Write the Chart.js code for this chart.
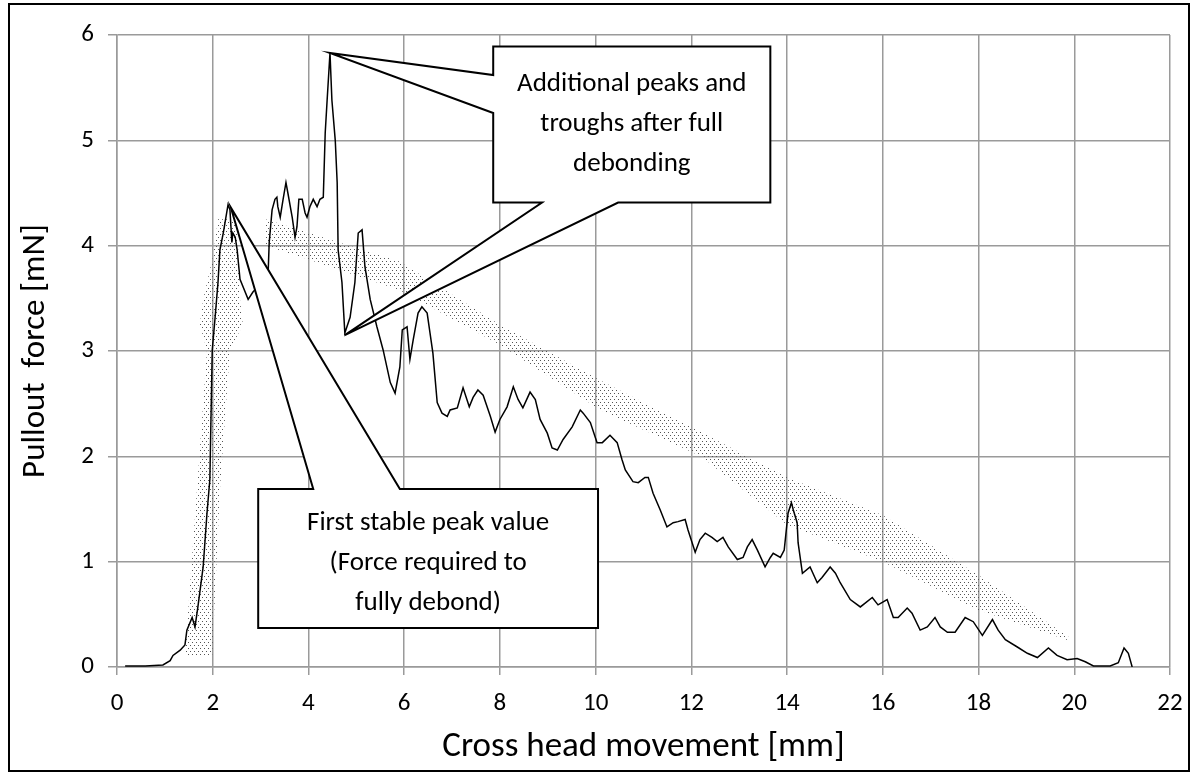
<!DOCTYPE html>
<html>
<head>
<meta charset="utf-8">
<script src="https://cdn.jsdelivr.net/npm/chart.js@4.4.1/dist/chart.umd.min.js"></script>
<style>
  body { margin: 0; background: #fff; }
</style>
</head>
<body>
<canvas id="pullout" width="1198" height="776"></canvas>
<script>
// pullout curve
const moveMm = [0.17, 0.59, 0.96, 1.11, 1.17, 1.32, 1.42, 1.46, 1.57, 1.63, 1.69, 1.80, 1.88, 1.94, 1.99, 2.05, 2.11, 2.15, 2.22, 2.32,
  2.36, 2.40, 2.42, 2.47, 2.51, 2.57, 2.74, 2.84, 2.99, 3.16, 3.18, 3.24, 3.30, 3.34, 3.36, 3.41, 3.47, 3.53, 3.57, 3.66,
  3.72, 3.76, 3.80, 3.87, 3.93, 3.97, 4.03, 4.10, 4.18, 4.24, 4.31, 4.35, 4.39, 4.45, 4.49, 4.56, 4.60, 4.62, 4.70, 4.76,
  4.87, 4.97, 5.04, 5.12, 5.18, 5.29, 5.43, 5.56, 5.71, 5.81, 5.91, 5.96, 6.06, 6.12, 6.19, 6.29, 6.37, 6.48, 6.54, 6.60,
  6.69, 6.79, 6.90, 6.96, 7.11, 7.23, 7.36, 7.44, 7.54, 7.65, 7.80, 7.90, 8.00, 8.15, 8.28, 8.38, 8.48, 8.63, 8.74, 8.84,
  8.99, 9.09, 9.20, 9.32, 9.51, 9.68, 9.74, 9.89, 10.03, 10.14, 10.30, 10.45, 10.55, 10.62, 10.78, 10.89, 11.03, 11.10, 11.20, 11.35,
  11.49, 11.62, 11.72, 11.87, 11.93, 12.08, 12.18, 12.29, 12.43, 12.54, 12.66, 12.77, 12.96, 13.08, 13.17, 13.27, 13.38, 13.54, 13.65, 13.71,
  13.86, 13.94, 14.02, 14.09, 14.13, 14.21, 14.23, 14.32, 14.48, 14.63, 14.73, 14.90, 15.01, 15.11, 15.32, 15.53, 15.78, 15.90, 16.09, 16.22,
  16.32, 16.51, 16.61, 16.78, 16.93, 17.09, 17.20, 17.35, 17.51, 17.72, 17.89, 18.08, 18.29, 18.41, 18.56, 18.81, 19.02, 19.23, 19.46, 19.64,
  19.85, 20.06, 20.23, 20.40, 20.75, 20.92, 21.04, 21.13, 21.21];
const forceMn = [0.01, 0.01, 0.02, 0.06, 0.11, 0.16, 0.21, 0.35, 0.47, 0.38, 0.57, 0.95, 1.46, 1.78, 3.01, 3.32, 3.65, 3.96, 4.12, 4.39,
  4.34, 4.03, 4.12, 4.08, 3.96, 3.68, 3.49, 3.56, 3.63, 3.77, 4.03, 4.34, 4.44, 4.46, 4.37, 4.27, 4.44, 4.60, 4.50, 4.27,
  4.08, 4.18, 4.44, 4.44, 4.31, 4.27, 4.37, 4.44, 4.37, 4.44, 4.46, 5.07, 5.38, 5.83, 5.38, 5.00, 4.60, 3.96, 3.65, 3.17,
  3.32, 3.65, 4.12, 4.15, 3.80, 3.49, 3.23, 3.01, 2.70, 2.60, 2.85, 3.20, 3.23, 2.92, 3.11, 3.36, 3.42, 3.36, 3.17, 2.98,
  2.51, 2.41, 2.38, 2.44, 2.46, 2.65, 2.47, 2.56, 2.63, 2.58, 2.38, 2.23, 2.35, 2.47, 2.66, 2.54, 2.46, 2.61, 2.54, 2.35,
  2.22, 2.08, 2.06, 2.16, 2.28, 2.44, 2.41, 2.32, 2.13, 2.13, 2.20, 2.13, 1.97, 1.87, 1.76, 1.75, 1.80, 1.80, 1.65, 1.49,
  1.33, 1.37, 1.38, 1.40, 1.30, 1.09, 1.21, 1.27, 1.23, 1.19, 1.23, 1.14, 1.02, 1.04, 1.14, 1.21, 1.11, 0.95, 1.04, 1.08,
  1.04, 1.11, 1.46, 1.56, 1.49, 1.37, 1.18, 0.89, 0.95, 0.80, 0.85, 0.95, 0.89, 0.80, 0.64, 0.57, 0.66, 0.59, 0.64, 0.47,
  0.47, 0.56, 0.51, 0.35, 0.38, 0.47, 0.38, 0.33, 0.33, 0.47, 0.43, 0.30, 0.45, 0.35, 0.26, 0.19, 0.13, 0.09, 0.18, 0.11,
  0.07, 0.08, 0.05, 0.01, 0.01, 0.04, 0.18, 0.13, 0.00];

// dotted highlight areas (outline points)
const riseBandX = [1.42, 1.99, 2.15, 2.36, 2.63, 2.57, 2.51, 2.11, 2.01, 1.80, 1.73, 1.88, 1.67, 1.42];
const riseBandY = [0.11, 0.11, 1.68, 3.01, 3.25, 3.49, 4.25, 4.25, 3.91, 3.49, 3.25, 3.01, 1.68, 0.11];
const trendBandX = [3.1, 3.8, 5.9, 8.0, 10.1, 12.2, 14.0, 16.0, 18.0, 19.9, 19.9, 18.0, 16.0, 14.0, 12.2, 10.1, 8.0, 5.9, 3.8, 3.1, 3.1];
const trendBandY = [4.25, 4.15, 3.85, 3.25, 2.72, 2.23, 1.80, 1.44, 0.87, 0.28, 0.25, 0.54, 1.00, 1.35, 2.00, 2.44, 3.06, 3.58, 3.90, 4.00, 4.25];

const xTicks = [0, 2, 4, 6, 8, 10, 12, 14, 16, 18, 20, 22];
const yTicks = [0, 1, 2, 3, 4, 5, 6];

const calloutPeaks = ['Additional peaks and', 'troughs after full', 'debonding'];
const calloutFirst = ['First stable peak value', '(Force required to', 'fully debond)'];

const FONT = "Carlito, Lato, 'Noto Sans', sans-serif";

function toPoints(xs, ys) {
  return xs.map((v, i) => ({ x: v, y: ys[i] }));
}

// little dot pattern for the shaded areas
function dotPattern() {
  const c = document.createElement('canvas');
  c.width = 4; c.height = 6;
  const g = c.getContext('2d');
  g.fillStyle = '#555';
  g.fillRect(0, 0, 1, 1);
  g.fillRect(2, 3, 1, 1);
  return g.createPattern(c, 'repeat');
}

const calloutPlugin = {
  id: 'callouts',
  afterDatasetsDraw(chart) {
    const ctx = chart.ctx;
    const sx = chart.scales.x, sy = chart.scales.y;
    const P = (a, b) => [sx.getPixelForValue(a), sy.getPixelForValue(b)];

    function shape(pts) {
      ctx.beginPath();
      pts.forEach((p, i) => i ? ctx.lineTo(p[0], p[1]) : ctx.moveTo(p[0], p[1]));
      ctx.closePath();
      ctx.fillStyle = '#fff';
      ctx.fill();
      ctx.lineWidth = 2;
      ctx.strokeStyle = '#000';
      ctx.stroke();
    }
    function label(lines, cx, cy) {
      ctx.fillStyle = '#000';
      ctx.font = '27px ' + FONT;
      ctx.textAlign = 'center';
      ctx.textBaseline = 'middle';
      lines.forEach((t, i) => ctx.fillText(t, cx, cy + (i - 1) * 40));
    }

    ctx.save();
    // upper callout: wedge to the big peak and wedge to the trough
    let x0 = 7.86, x1 = 13.65, yT = 5.89, yB = 4.41;
    shape([P(x0, yT), P(x1, yT), P(x1, yB), P(10.47, yB), P(4.76, 3.15), P(8.88, yB),
      P(x0, yB), P(x0, 5.26), P(4.45, 5.83), P(x0, 5.62)]);
    let a = P(x0, yT), b = P(x1, yB);
    label(calloutPeaks, (a[0] + b[0]) / 2, (a[1] + b[1]) / 2);

    // lower callout: wedge up to the first peak
    x0 = 2.95; x1 = 10.05; yT = 1.69; yB = 0.37;
    shape([P(x0, yT), P(4.10, yT), P(2.38, 4.36), P(5.91, yT), P(x1, yT), P(x1, yB), P(x0, yB)]);
    a = P(x0, yT); b = P(x1, yB);
    label(calloutFirst, (a[0] + b[0]) / 2, (a[1] + b[1]) / 2 + 5);
    ctx.restore();
  },
  afterDraw(chart) {
    const ctx = chart.ctx;
    ctx.save();
    ctx.lineWidth = 2;
    ctx.strokeStyle = '#000';
    ctx.strokeRect(9, 4, 1180, 767);
    ctx.restore();
  }
};

const pattern = dotPattern();
const gridGrey = '#9a9a9a';

new Chart(document.getElementById('pullout'), {
  type: 'line',
  data: {
    datasets: [
      {
        data: toPoints(moveMm, forceMn),
        borderColor: '#000',
        borderWidth: 1.5,
        pointRadius: 0,
        tension: 0,
        fill: false
      },
      {
        data: toPoints(riseBandX, riseBandY),
        borderWidth: 0,
        borderColor: 'rgba(0,0,0,0)',
        backgroundColor: pattern,
        pointRadius: 0,
        fill: 'shape'
      },
      {
        data: toPoints(trendBandX, trendBandY),
        borderWidth: 0,
        borderColor: 'rgba(0,0,0,0)',
        backgroundColor: pattern,
        pointRadius: 0,
        fill: 'shape'
      }
    ]
  },
  options: {
    responsive: false,
    animation: false,
    layout: { padding: { left: 0, top: 35, right: 28, bottom: 0 } },
    plugins: {
      legend: { display: false },
      tooltip: { enabled: false }
    },
    scales: {
      x: {
        type: 'linear',
        min: 0, max: 22,
        afterFit: s => { s.height = 109; },
        afterBuildTicks: s => { s.ticks = xTicks.map(v => ({ value: v })); },
        grid: { color: gridGrey, lineWidth: 1.5, tickLength: 8, tickColor: gridGrey },
        border: { color: gridGrey, width: 1.5 },
        ticks: { color: '#000', font: { family: FONT, size: 25 }, padding: 14, maxRotation: 0 },
        title: {
          display: true, text: 'Cross head movement [mm]', color: '#000',
          font: { family: FONT, size: 35 }, padding: { top: 0, bottom: 8 }
        }
      },
      y: {
        type: 'linear',
        min: 0, max: 6,
        afterFit: s => { s.width = 117; },
        afterBuildTicks: s => { s.ticks = yTicks.map(v => ({ value: v })); },
        grid: { color: gridGrey, lineWidth: 1.5, tickLength: 9, tickColor: gridGrey },
        border: { color: gridGrey, width: 1.5 },
        ticks: { color: '#000', font: { family: FONT, size: 25 }, padding: 14 },
        title: {
          display: true, text: 'Pullout  force [mN]', color: '#000',
          font: { family: FONT, size: 33 }, padding: { top: 16, bottom: 0 }
        }
      }
    }
  },
  plugins: [calloutPlugin]
});
</script>
</body>
</html>
